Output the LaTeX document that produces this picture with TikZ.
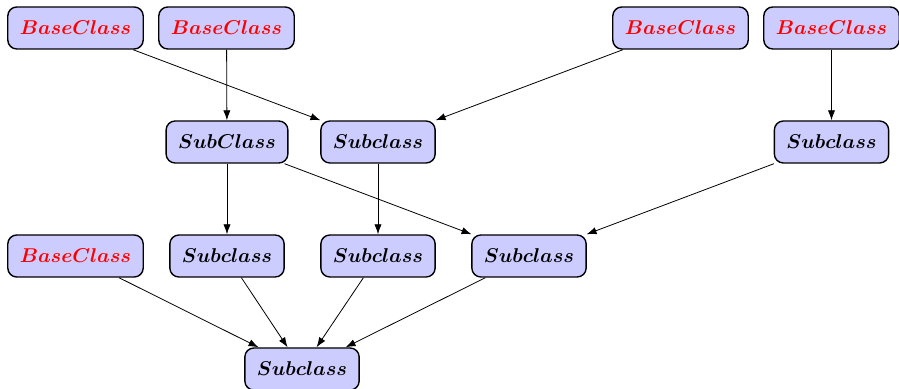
\documentclass[tikz,border=0pt]{standalone}
\usetikzlibrary{arrows.meta}
\tikzset{
  cls/.style={draw=black, line width=0.7pt, fill=blue!20, rounded corners=4.5pt,
    minimum height=21pt, inner xsep=6pt, inner ysep=2pt, font=\boldmath},
  base/.style={cls, text=red},
  conn/.style={-{Latex[length=5pt,width=3.6pt]}, line width=0.4pt}
}
\begin{document}
\begin{tikzpicture}[x=0.5pt,y=-0.5pt]
\useasboundingbox (0,0) rectangle (899,389);
\node[base] (b1) at (75.5,28) {$BaseClass$};
\node[base] (b2) at (226.5,28) {$BaseClass$};
\node[base] (b3) at (680.5,28) {$BaseClass$};
\node[base] (b4) at (831.5,28) {$BaseClass$};
\node[cls] (s1) at (227,142) {$SubClass$};
\node[cls] (s2) at (378,142) {$Subclass$};
\node[cls] (s3) at (831.5,142) {$Subclass$};
\node[base] (b5) at (75.5,256) {$BaseClass$};
\node[cls] (t1) at (227,256) {$Subclass$};
\node[cls] (t2) at (378,256) {$Subclass$};
\node[cls] (t3) at (529,256) {$Subclass$};
\node[cls] (u) at (302,369) {$Subclass$};
\draw[conn] (b1) -- (s2);
\draw[conn] (b2) -- (s1);
\draw[conn] (b3) -- (s2);
\draw[conn] (b4) -- (s3);
\draw[conn] (s1) -- (t1);
\draw[conn] (s1) -- (t3);
\draw[conn] (s2) -- (t2);
\draw[conn] (s3) -- (t3);
\draw[conn] (b5) -- (u);
\draw[conn] (t1) -- (u);
\draw[conn] (t2) -- (u);
\draw[conn] (t3) -- (u);
\end{tikzpicture}
\end{document}
